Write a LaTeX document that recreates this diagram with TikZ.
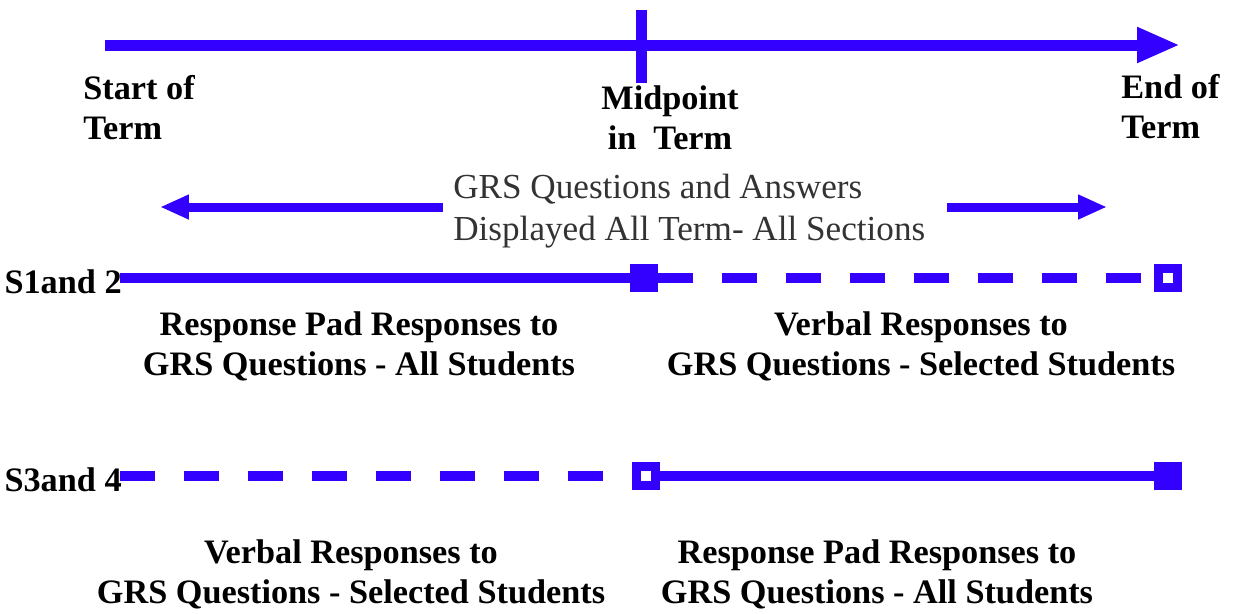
\documentclass[tikz,border=0pt]{standalone}
\usepackage{fontspec}
\setmainfont{Liberation Serif}
\usetikzlibrary{arrows.meta}
\definecolor{grsblue}{RGB}{51,0,255}

\begin{document}
\begin{tikzpicture}[x=0.02cm, y=-0.02cm,
 bar/.style={draw=grsblue, line width=0.2cm},
 dashbar/.style={bar, dash pattern=on 0.7cm off 0.58cm},
 fullsq/.style={rectangle, fill=grsblue, minimum size=0.56cm, inner sep=0pt},
 holesq/.style={rectangle, draw=grsblue, fill=white, line width=0.19cm, minimum size=0.38cm, inner sep=0pt},
 lbl/.style={inner sep=0pt, font=\bfseries\fontsize{19.5}{22.7}\selectfont},
 note/.style={inner sep=0pt, text=black!80, align=left, font=\fontsize{20}{23.8}\selectfont}]
 \useasboundingbox (0,0) rectangle (1233,613);

 \coordinate (t0) at (105,45);
 \coordinate (t1) at (1180,45);
 \coordinate (mt) at (641,10);
 \coordinate (mb) at (641,83);
 \draw[bar, line width=0.22cm, -{Triangle[length=0.86cm,width=0.66cm]}] (t0) -- (t1);
 \draw[bar, line width=0.22cm] (mt) -- (mb);

 \node (start) [lbl, align=left, anchor=west] at (83,108) {Start of\\Term};
 \node (mid) [lbl, align=center] at (670,118) {Midpoint\\in\ \ Term};
 \node (end) [lbl, align=left, anchor=west] at (1121,107) {End of\\Term};

 \node (shown) [note, anchor=west] at (453,211) {GRS Questions and Answers\\Displayed All Term- All Sections};
 \coordinate (lt) at (160,207);
 \coordinate (lb) at (443,207);
 \coordinate (rb) at (947,207);
 \coordinate (rt) at (1107,207);
 \draw[bar, line width=0.18cm, -{Triangle[length=0.58cm,width=0.46cm]}] (lb) -- (lt);
 \draw[bar, line width=0.18cm, -{Triangle[length=0.58cm,width=0.46cm]}] (rb) -- (rt);

 \coordinate (a0) at (120,278);
 \node (m1) [fullsq] at (644,278) {};
 \node (e1) [holesq] at (1168,278) {};
 \node (s1) [lbl, anchor=east] at (122,282) {S1and 2};
 \draw[bar] (a0) -- (m1.west);
 \draw[dashbar] (m1.east) -- (e1.west);
 \node (pad1) [lbl, align=center] at (359,346) {Response Pad Responses to\\GRS Questions - All Students};
 \node (verb1) [lbl, align=center] at (921,346) {Verbal Responses to\\GRS Questions - Selected Students};

 \coordinate (a1) at (120,476);
 \node (m2) [holesq] at (646,476) {};
 \node (e2) [fullsq] at (1168,476) {};
 \node (s3) [lbl, anchor=east] at (122,480) {S3and 4};
 \draw[dashbar] (a1) -- (m2.west);
 \draw[bar] (m2.east) -- (e2.west);
 \node (verb2) [lbl, align=center] at (351,574) {Verbal Responses to\\GRS Questions - Selected Students};
 \node (pad2) [lbl, align=center] at (877,574) {Response Pad Responses to\\GRS Questions - All Students};
\end{tikzpicture}
\end{document}
